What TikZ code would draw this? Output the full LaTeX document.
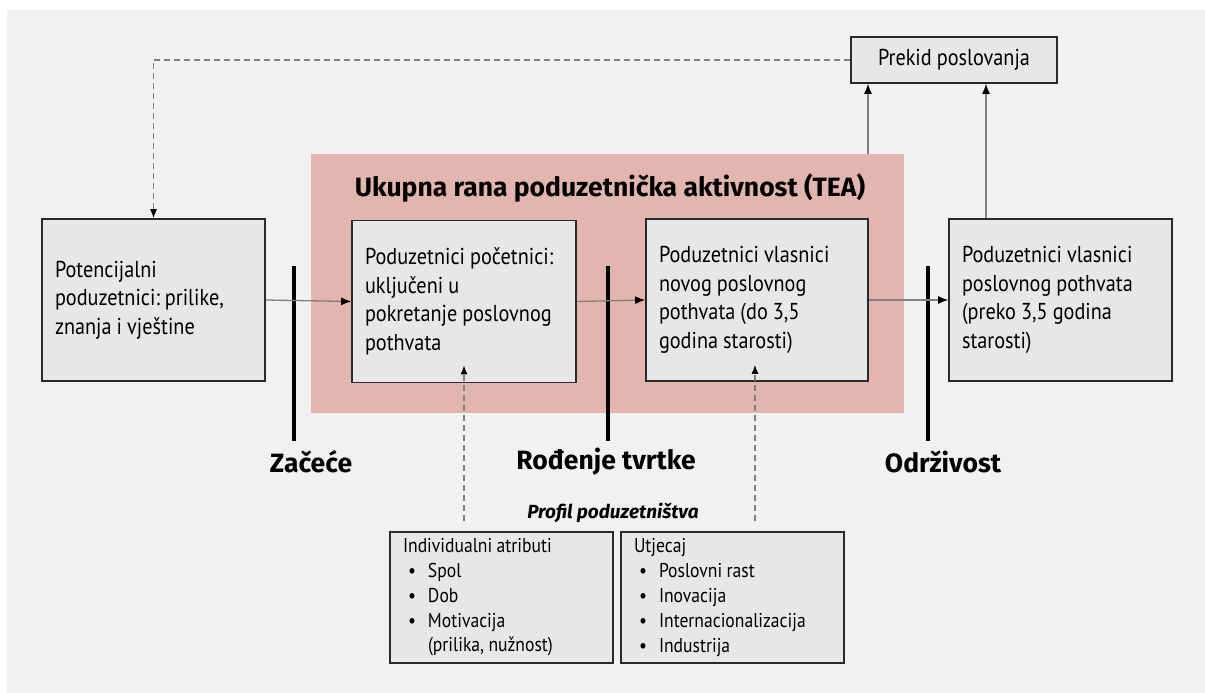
\documentclass[tikz,border=0pt]{standalone}
\usepackage{fontspec}
\setmainfont{PT Sans}[FakeStretch=0.88]
\newfontfamily\headfont{Fira Sans}
\usetikzlibrary{arrows.meta,calc}
\definecolor{bgc}{HTML}{F1F1F1}
\definecolor{pinkc}{HTML}{E2B5AE}
\definecolor{boxc}{HTML}{E6E7E9}
\definecolor{edgec}{HTML}{2A2A2A}
\definecolor{arrc}{HTML}{808080}
\newcommand\itm[1]{\hspace*{5pt}\makebox[20pt][l]{\textbullet}#1}
\newcommand\tightsp{\frenchspacing\spaceskip=0.22em\relax\xspaceskip=0.22em\relax}
\begin{document}
\begin{tikzpicture}[x=1pt,y=-1pt,
  stagebox/.style={draw=edgec,line width=1.6pt,fill=boxc,inner sep=0pt,
    minimum height=162pt,align=left,execute at begin node=\tightsp,
    font=\fontsize{23}{28.5}\selectfont},
  profbox/.style={draw=edgec,line width=1.6pt,fill=boxc,inner sep=0pt,
    minimum width=223pt,minimum height=131pt,text width=197pt,align=left,
    execute at begin node=\tightsp,
    font=\fontsize{20}{24.8}\selectfont},
  flow/.style={draw=arrc,line width=1.3pt,-{Latex[length=10pt,width=8pt,color=black]}},
  dflow/.style={draw=arrc,line width=1.2pt,dash pattern=on 6pt off 4pt,-{Latex[length=9pt,width=7pt,color=black]}},
  bar/.style={line width=3.5pt,black},
  stagelbl/.style={font=\headfont\fontsize{26.5}{30}\selectfont\bfseries}
]
\useasboundingbox (0,0) rectangle (1205,693);
\fill[bgc] (7,10) rectangle (1205,693);
\fill[pinkc] (311,154) rectangle (904,413);
\node[font=\headfont\fontsize{26.5}{30}\selectfont\bfseries] (tea) at (610,188) {Ukupna rana poduzetnička aktivnost (TEA)};

\node[stagebox,minimum width=223pt,text width=197pt] (b1) at (153.5,300) {Potencijalni\\poduzetnici: prilike,\\znanja i vještine};
\node[stagebox,minimum width=224pt,text width=198pt] (b2) at (464,301.5) {Poduzetnici početnici:\\uključeni u\\pokretanje poslovnog\\pothvata};
\node[stagebox,minimum width=222pt,text width=196pt] (b3) at (757,300) {Poduzetnici vlasnici\\novog poslovnog\\pothvata (do 3,5\\godina starosti)};
\node[stagebox,minimum width=223pt,text width=197pt] (b4) at (1060.5,300) {Poduzetnici vlasnici\\poslovnog pothvata\\(preko 3,5 godina\\starosti)};
\node[draw=edgec,line width=1.6pt,fill=boxc,minimum width=206pt,minimum height=46pt,inner sep=0pt,
  execute at begin node=\tightsp,font=\fontsize{23}{26}\selectfont] (prekid) at (954,60) {Prekid poslovanja};

\coordinate (z1) at (294,266); \coordinate (z2) at (294,441);
\coordinate (r1) at (608,266); \coordinate (r2) at (608,441);
\coordinate (o1) at (928,266); \coordinate (o2) at (928,441);
\draw[bar] (z1) -- (z2);
\draw[bar] (r1) -- (r2);
\draw[bar] (o1) -- (o2);
\node[stagelbl] (zl) at (311,462) {Začeće};
\node[stagelbl] (rl) at (606,462) {Rođenje tvrtke};
\node[stagelbl] (ol) at (943,462) {Održivost};

\draw[flow] (b1.east) -- (b2.west);
\draw[flow] (b2.east) -- (b3.west);
\draw[flow] (b3.east) -- (b4.west);

\coordinate (u1) at (868,154);
\coordinate (u2) at (986,0);
\draw[flow] (u1) -- (prekid.south -| u1);
\draw[flow] (b4.north -| u2) -- (prekid.south -| u2);
\draw[dflow] (prekid.west) -| (b1.north);

\node[font=\headfont\fontsize{19}{22}\selectfont\bfseries\itshape] (prof) at (613,513) {Profil poduzetništva};
\node[profbox] (p1) at (501.5,597.5) {Individualni atributi\\\itm{Spol}\\\itm{Dob}\\\itm{Motivacija}\\\hspace*{25pt}(prilika, nužnost)};
\node[profbox] (p2) at (732.5,597.5) {Utjecaj\\\itm{Poslovni rast}\\\itm{Inovacija}\\\itm{Internacionalizacija}\\\itm{Industrija}};

\coordinate (d1) at (464,521);
\coordinate (d2) at (755,521);
\draw[dflow] (d1) -- ($(b2.south)+(0,-18)$);
\draw[dflow] (d2) -- ($(b3.south -| d2)+(0,-17)$);
\end{tikzpicture}
\end{document}
